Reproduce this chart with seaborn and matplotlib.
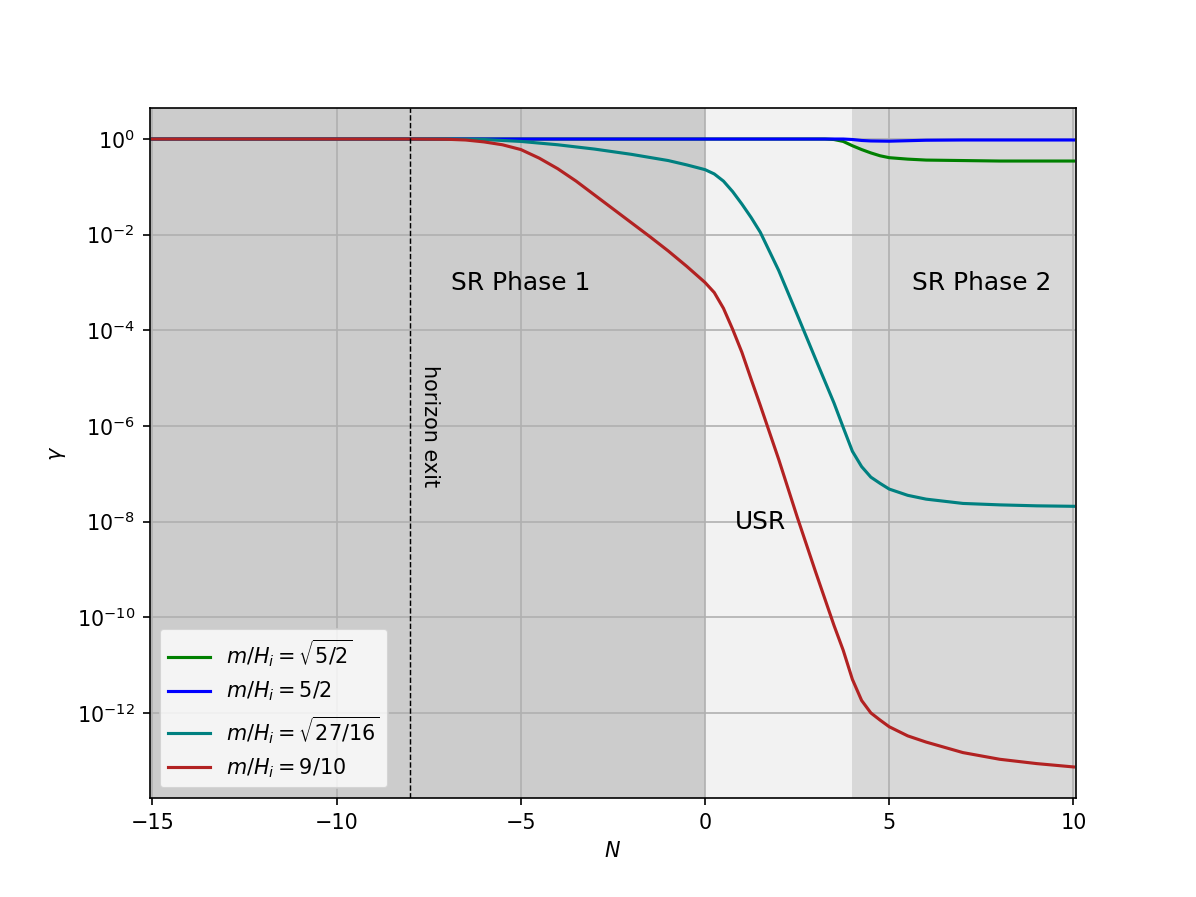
import numpy as np
import pandas as pd
import matplotlib
matplotlib.use("Agg")
import matplotlib.pyplot as plt
import seaborn as sns

# e-folds N and log10(gamma), one pair per curve
N_sqrt52 = [-15, 3, 3.25, 3.5, 3.75, 4, 4.25, 4.5, 4.75, 5, 5.5, 6, 7, 8, 10]
log_gamma_sqrt52 = [0, 0, 0, -0.01, -0.05, -0.14, -0.22, -0.29, -0.35, -0.39, -0.42, -0.44, -0.45, -0.46, -0.46]

N_52 = [-15, 3.75, 4, 4.25, 4.5, 5, 5.5, 6, 7, 10]
log_gamma_52 = [0, 0, -0.01, -0.03, -0.04, -0.045, -0.035, -0.025, -0.02, -0.02]

N_sqrt2716 = [-15, -7, -6, -5, -4, -3, -2, -1, -0.5, 0, 0.25, 0.5, 0.75, 1, 1.25,
              1.5, 2, 2.5, 3, 3.5, 3.75, 4, 4.25, 4.5, 4.75, 5, 5.5, 6, 7, 8, 9, 10]
log_gamma_sqrt2716 = [0, 0, -0.01, -0.05, -0.12, -0.21, -0.32, -0.45, -0.54, -0.64, -0.73, -0.88, -1.10, -1.36, -1.64,
                      -1.95, -2.75, -3.67, -4.60, -5.52, -6.03, -6.53, -6.85, -7.07, -7.20, -7.32, -7.45, -7.53, -7.62, -7.65, -7.67, -7.68]

N_910 = [-15, -8, -7, -6.5, -6, -5.5, -5, -4.5, -4, -3.5, -3, -2.5, -2, -1.5, -1, -0.5, 0, 0.25, 0.5, 0.75, 1, 1.25,
         1.5, 2, 2.5, 3, 3.5, 3.75, 4, 4.25, 4.5, 4.75, 5, 5.5, 6, 7, 8, 9, 10]
log_gamma_910 = [0, 0, -0.005, -0.02, -0.06, -0.12, -0.22, -0.40, -0.62, -0.88, -1.17, -1.46, -1.75, -2.04, -2.34, -2.66, -3.00, -3.21, -3.54, -3.98, -4.46, -5.02,
                 -5.57, -6.70, -7.90, -9.05, -10.17, -10.69, -11.30, -11.74, -12.00, -12.15, -12.29, -12.48, -12.61, -12.83, -12.97, -13.06, -13.13]

labels = [r'$m/H_i=\sqrt{5/2}$', r'$m/H_i=5/2$',
          r'$m/H_i=\sqrt{27/16}$', r'$m/H_i=9/10$']
colors = ['green', 'blue', 'teal', 'firebrick']
series = [(N_sqrt52, log_gamma_sqrt52), (N_52, log_gamma_52),
          (N_sqrt2716, log_gamma_sqrt2716), (N_910, log_gamma_910)]
ytick_exponents = [0, -2, -4, -6, -8, -10, -12]

fig, ax = plt.subplots(figsize=(8, 6), dpi=149.5)

# phase shading
ax.axvspan(-16, 0, color='gray', alpha=0.4, lw=0)
ax.axvspan(0, 4, color='gray', alpha=0.1, lw=0)
ax.axvspan(4, 11, color='gray', alpha=0.3, lw=0)

for (n, vals), lab, col in zip(series, labels, colors):
    df = pd.DataFrame({'N': n, 'gamma': 10.0 ** np.array(vals)})
    sns.lineplot(data=df, x='N', y='gamma', color=col, label=lab, lw=1.5, ax=ax)

ax.axvline(-8, color='black', ls='--', lw=0.7)
ax.text(-7.47, 1e-6, 'horizon exit', rotation=270, ha='center', va='center', fontsize=10)
ax.text(-5, 1e-3, 'SR Phase 1', ha='center', va='center', fontsize=12)
ax.text(7.5, 1e-3, 'SR Phase 2', ha='center', va='center', fontsize=12)
ax.text(1.5, 1e-8, 'USR', ha='center', va='center', fontsize=12)

ax.set_yscale('log')
ax.set_yticks([10.0 ** e for e in ytick_exponents])
ax.set_xlim(-15.08, 10.08)
ax.set_xlabel(r'$N$')
ax.set_ylabel(r'$\gamma$')
ax.grid(True)
ax.legend(loc='lower left')

fig.savefig('out.png', dpi=149.5)
